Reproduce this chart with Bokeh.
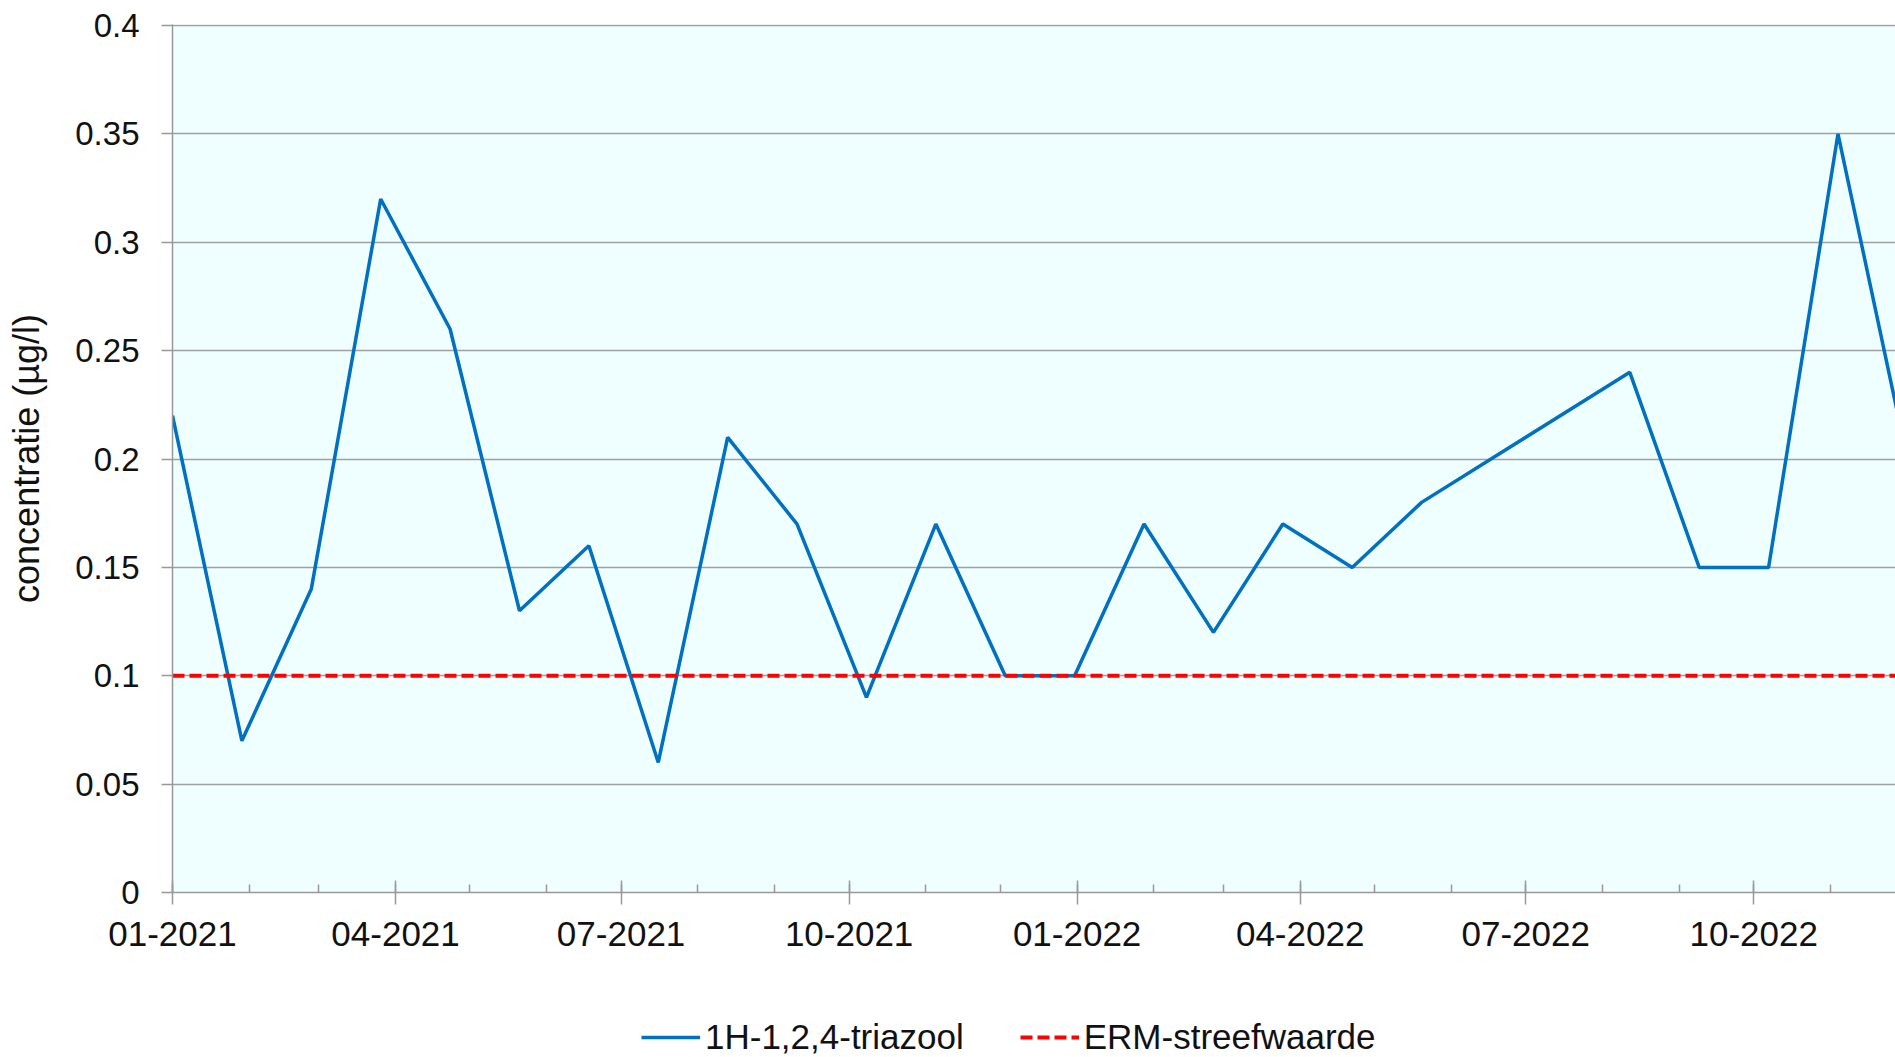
import pandas as pd
from bokeh.plotting import figure
from bokeh.layouts import column
from bokeh.models import (Range1d, FixedTicker, CustomJSTickFormatter, Legend, LegendItem)
from bokeh.embed import file_html
from bokeh.resources import INLINE

# ---- data ----
sample_dates = [
    "2021-01-01", "2021-01-29", "2021-02-26", "2021-03-26", "2021-04-23",
    "2021-05-21", "2021-06-18", "2021-07-16", "2021-08-13", "2021-09-10",
    "2021-10-08", "2021-11-05", "2021-12-03", "2021-12-31", "2022-01-28",
    "2022-02-25", "2022-03-25", "2022-04-22", "2022-05-20", "2022-08-12",
    "2022-09-09", "2022-10-07", "2022-11-04", "2022-12-02",
]
triazool = [
    0.22, 0.07, 0.14, 0.32, 0.26,
    0.13, 0.16, 0.06, 0.21, 0.17,
    0.09, 0.17, 0.10, 0.10, 0.17,
    0.12, 0.17, 0.15, 0.18, 0.24,
    0.15, 0.15, 0.35, 0.20,
]
erm_streefwaarde = 0.1
y_ticks = [0, 0.05, 0.1, 0.15, 0.2, 0.25, 0.3, 0.35, 0.4]
x_major_months = ["2021-01-01", "2021-04-01", "2021-07-01", "2021-10-01",
                  "2022-01-01", "2022-04-01", "2022-07-01", "2022-10-01"]
x_minor_months = pd.date_range("2021-01-01", "2022-11-01", freq="MS")
axis_start = "2021-01-01"
axis_end = "2022-11-27 05:00"

series_label = "1H-1,2,4-triazool"
erm_label = "ERM-streefwaarde"
y_label = "concentratie (µg/l)"

# ---- helpers ----
def ms(d):
    return pd.Timestamp(d).value // 10**6

dates = pd.to_datetime(sample_dates)
x0 = pd.Timestamp(axis_start)
x1 = pd.Timestamp(axis_end)

FONT = "Liberation Sans"
GRID = "#A0A0A0"
AXIS = "#999999"
BLUE = "#0070C0"
RED = "#FF0000"

# y range top padded by ~1px so the 0.4 grid line stays inside the frame
p = figure(width=1895, height=990, x_axis_type="datetime",
           x_range=Range1d(x0, x1), y_range=Range1d(0, 0.4005),
           output_backend="svg", toolbar_location=None,
           min_border_left=172, min_border_right=0,
           min_border_top=24, min_border_bottom=98,
           background_fill_color="#EFFFFF", border_fill_color="white",
           outline_line_color=None)

p.line(x=dates, y=triazool, line_color=BLUE, line_width=3.5)
p.line(x=[x0, x1], y=[erm_streefwaarde, erm_streefwaarde],
       line_color=RED, line_width=4, line_dash="12 5")

# grid
p.xgrid.grid_line_color = None
p.ygrid.ticker = FixedTicker(ticks=y_ticks)
p.ygrid.grid_line_color = GRID
p.ygrid.grid_line_width = 1.5
p.ygrid.level = "underlay"

# x axis
xa = p.xaxis[0]
xa.ticker = FixedTicker(ticks=[ms(d) for d in x_major_months],
                        minor_ticks=[ms(d) for d in x_minor_months])
xa.formatter = CustomJSTickFormatter(code="""
    const d = new Date(tick);
    const m = d.getUTCMonth() + 1;
    return (m < 10 ? '0' : '') + m + '-' + d.getUTCFullYear();
""")
xa.axis_line_color = AXIS
xa.axis_line_width = 1.5
xa.major_tick_line_color = AXIS
xa.major_tick_line_width = 1.5
xa.major_tick_in = 12
xa.major_tick_out = 12
xa.minor_tick_line_color = AXIS
xa.minor_tick_line_width = 1.5
xa.minor_tick_in = 8
xa.minor_tick_out = 0
xa.major_label_text_font = FONT
xa.major_label_text_font_size = "35px"
xa.major_label_text_color = "#111111"
xa.major_label_standoff = 17

# y axis
ya = p.yaxis[0]
ya.ticker = FixedTicker(ticks=y_ticks)
ya.formatter = CustomJSTickFormatter(code="return String(Math.round(tick * 100) / 100);")
ya.axis_line_color = AXIS
ya.axis_line_width = 1.5
ya.major_tick_line_color = AXIS
ya.major_tick_line_width = 1.5
ya.major_tick_in = 0
ya.major_tick_out = 11
ya.minor_tick_line_color = None
ya.major_label_text_font = FONT
ya.major_label_text_font_size = "33px"
ya.major_label_text_color = "#111111"
ya.major_label_standoff = 22
ya.axis_label = y_label
ya.axis_label_text_font = FONT
ya.axis_label_text_font_size = "36px"
ya.axis_label_text_font_style = "normal"
ya.axis_label_text_color = "#111111"
ya.axis_label_standoff = 25

# ---- legend strip below the chart ----
# the strip repeats both series with a y range far above them, so only the legend shows
leg = figure(width=1895, height=67, output_backend="svg", toolbar_location=None,
             x_axis_type="datetime", x_range=Range1d(x0, x1), y_range=Range1d(10, 11),
             x_axis_location=None, y_axis_location=None,
             min_border_left=0, min_border_right=0, min_border_top=0, min_border_bottom=0,
             background_fill_color="white", border_fill_color="white",
             outline_line_color=None)
leg.xgrid.visible = False
leg.ygrid.visible = False
k1 = leg.line(x=dates, y=triazool, line_color=BLUE, line_width=3.5)
k2 = leg.line(x=[x0, x1], y=[erm_streefwaarde, erm_streefwaarde],
              line_color=RED, line_width=4, line_dash="12 5")

legend = Legend(items=[LegendItem(label=series_label, renderers=[k1]),
                       LegendItem(label=erm_label, renderers=[k2])],
                orientation="horizontal", location=(469, 0),
                glyph_width=59, glyph_height=20, label_standoff=5,
                spacing=56, padding=0, margin=0, label_height=20,
                background_fill_alpha=0, border_line_color=None,
                label_text_font=FONT, label_text_font_size="35px",
                label_text_color="#111111")
leg.add_layout(legend)

layout = column(p, leg, spacing=0)
open("out.html", "w").write(file_html(layout, INLINE))
